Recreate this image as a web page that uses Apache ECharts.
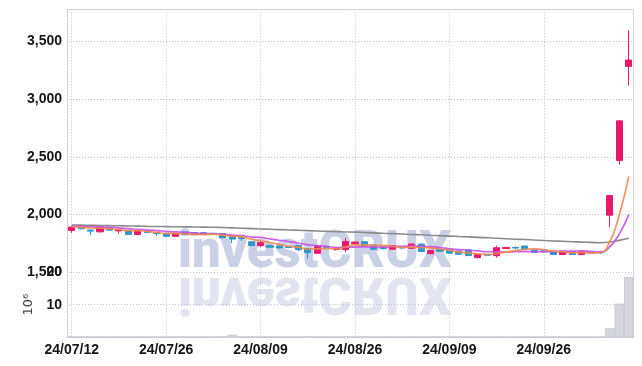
<!DOCTYPE html>
<html><head><meta charset="utf-8">
<script src="https://cdn.jsdelivr.net/npm/echarts@6/dist/echarts.min.js"></script>
<style>html,body{margin:0;padding:0;background:#fff}#c{width:642px;height:366px}</style>
</head><body><div id="c"></div>
<script>
const dates = ['24/07/12','24/07/15','24/07/16','24/07/17','24/07/18','24/07/19','24/07/22','24/07/23','24/07/24','24/07/25',
'24/07/26','24/07/29','24/07/30','24/07/31','24/08/01','24/08/02','24/08/05','24/08/06','24/08/07','24/08/08',
'24/08/09','24/08/12','24/08/13','24/08/14','24/08/16','24/08/19','24/08/20','24/08/21','24/08/22','24/08/23',
'24/08/26','24/08/27','24/08/28','24/08/29','24/08/30','24/09/02','24/09/03','24/09/04','24/09/05','24/09/06',
'24/09/09','24/09/10','24/09/11','24/09/12','24/09/13','24/09/19','24/09/20','24/09/23','24/09/24','24/09/25',
'24/09/26','24/09/27','24/09/30','24/10/02','24/10/04','24/10/07','24/10/08','24/10/10','24/10/11','24/10/14'];
const openP = [1862,1892,1866,1851,1889,1859,1861,1827,1858,1844,1838,1812,1850,1845,1843,1838,1836,1818,1802,1764,
1731,1734,1728,1722,1733,1705,1665,1724,1697,1696,1748,1765,1737,1718,1700,1716,1708,1745,1662,1700,
1701,1684,1695,1627,1656,1644,1706,1715,1728,1693,1686,1682,1654,1676,1654,1675,1676,1995,2470,3285];
const closeP = [1892,1877,1857,1892,1865,1866,1827,1861,1845,1836,1812,1838,1828,1826,1829,1831,1798,1788,1793,1731,
1757,1717,1711,1715,1696,1670,1728,1717,1710,1768,1762,1731,1700,1705,1731,1711,1745,1680,1690,1683,
1666,1657,1645,1656,1647,1713,1716,1710,1702,1672,1678,1654,1682,1654,1681,1667,1668,2165,2813,3340];
const lowP = [1842,1872,1822,1845,1862,1836,1824,1824,1840,1814,1808,1808,1825,1822,1826,1826,1792,1752,1772,1728,
1718,1714,1708,1708,1682,1618,1662,1713,1688,1674,1745,1728,1696,1698,1697,1700,1705,1676,1658,1678,
1662,1652,1640,1622,1640,1627,1702,1700,1698,1668,1670,1650,1650,1650,1651,1660,1660,1893,2433,3120];
const highP = [1896,1897,1870,1896,1892,1870,1864,1864,1862,1848,1842,1842,1853,1848,1846,1842,1840,1822,1806,1768,
1774,1737,1731,1727,1736,1708,1731,1727,1712,1798,1764,1768,1740,1722,1734,1720,1750,1748,1694,1704,
1705,1688,1699,1660,1660,1731,1720,1725,1731,1696,1692,1685,1685,1679,1684,1680,1682,2168,2815,3597];
const ma5 = [1895,1890,1884,1882,1877,1871,1861,1862,1853,1847,1836,1838,1832,1828,1827,1830,1822,1814,1808,1788,
1773,1757,1742,1726,1719,1702,1704,1705,1704,1719,1737,1738,1734,1733,1726,1716,1718,1714,1711,1702,
1693,1675,1668,1661,1654,1664,1675,1688,1698,1703,1696,1683,1678,1668,1670,1668,1670,1767,1999,2331];
const ma10 = [1900,1898,1895,1893,1890,1885,1878,1873,1867,1862,1854,1850,1847,1840,1837,1833,1830,1823,1818,1807,
1802,1790,1778,1767,1754,1738,1731,1724,1715,1719,1719,1721,1720,1719,1722,1726,1728,1724,1722,1714,
1704,1697,1691,1686,1678,1678,1675,1678,1680,1678,1680,1679,1683,1683,1686,1682,1677,1722,1833,2000];
const ma60 = [1910,1909,1907,1906,1905,1903,1902,1900,1898,1897,1896,1895,1894,1893,1892,1890,1888,1885,1882,1879,
1876,1873,1870,1867,1864,1861,1858,1855,1852,1850,1848,1845,1842,1838,1835,1832,1828,1825,1821,1818,
1814,1810,1807,1803,1799,1795,1791,1787,1784,1780,1776,1772,1769,1765,1762,1759,1756,1762,1777,1795];
const volume = [0.05,0.04,0.05,0.04,0.03,0.04,0.05,0.04,0.03,0.04,0.05,0.04,0.03,0.03,0.04,0.04,0.08,0.7,0.06,0.08,
0.05,0.04,0.04,0.03,0.05,0.08,0.06,0.04,0.03,0.06,0.04,0.04,0.05,0.03,0.04,0.03,0.04,0.05,0.04,0.03,
0.04,0.03,0.04,0.05,0.03,0.06,0.04,0.03,0.04,0.03,0.03,0.03,0.04,0.03,0.03,0.03,0.04,2.7,10.3,18.5];
const priceTicks = {min:1500, max:3780, interval:500};
const volTicks = {min:0, max:20, interval:10};

const chart = echarts.init(document.getElementById('c'), null, {renderer:'canvas'});
const lblFont = "'Liberation Sans',Arial,sans-serif";
const gridC = '#bcc1d8';
const edgeC = '#cfd2df';
const dotted = {color:gridC, type:[1,2], width:1};
const lbl = {fontFamily:lblFont, fontWeight:'bold', fontSize:14, color:'#151515'};
const candles = dates.map((d,i)=>[openP[i], closeP[i], lowP[i], highP[i]]);
const up = '#e8196c', down = '#2e96cd';

chart.setOption({
  animation:false,
  backgroundColor:'#ffffff',
  grid:[{left:67,right:8.5,top:9.3,height:263},{left:67,right:8.5,top:272.3,bottom:29}],
  xAxis:[
    {type:'category',gridIndex:0,data:dates,axisLine:{show:false},axisTick:{show:false},
     axisLabel:{show:false,interval:9},splitLine:{show:true,interval:9,alignWithLabel:true,lineStyle:dotted}},
    {type:'category',gridIndex:1,data:dates,axisLine:{show:true,lineStyle:{color:edgeC}},axisTick:{show:false},
     axisLabel:Object.assign({interval:9,margin:6},lbl),splitLine:{show:true,interval:9,alignWithLabel:true,lineStyle:dotted}},
    {type:'category',gridIndex:0,position:'top',data:dates,axisLine:{show:true,lineStyle:{color:edgeC}},axisTick:{show:false},
     axisLabel:{show:false},splitLine:{show:false}}
  ],
  yAxis:[
    {type:'value',gridIndex:0,min:priceTicks.min,max:priceTicks.max,interval:priceTicks.interval,
     axisLine:{show:true,lineStyle:{color:edgeC}},axisTick:{show:false},
     axisLabel:Object.assign({margin:5,showMaxLabel:false},lbl),splitLine:{show:true,lineStyle:dotted}},
    {type:'value',gridIndex:1,min:volTicks.min,max:volTicks.max,interval:volTicks.interval,
     name:'10\u2076',nameLocation:'middle',nameGap:18,nameRotate:90,
     nameTextStyle:{fontFamily:'DejaVu Sans',fontSize:13,color:'#444'},
     axisLine:{show:true,lineStyle:{color:edgeC}},axisTick:{show:false},
     axisLabel:Object.assign({margin:5,showMinLabel:false},lbl),splitLine:{show:true,lineStyle:dotted}},
    {type:'value',gridIndex:0,position:'right',min:priceTicks.min,max:priceTicks.max,
     axisLine:{show:true,lineStyle:{color:edgeC}},axisTick:{show:false},axisLabel:{show:false},splitLine:{show:false}},
    {type:'value',gridIndex:1,position:'right',min:volTicks.min,max:volTicks.max,
     axisLine:{show:true,lineStyle:{color:edgeC}},axisTick:{show:false},axisLabel:{show:false},splitLine:{show:false}}
  ],
  graphic:[
    {type:'text',x:178,y:254,z:-1,silent:true,
     style:{text:'investCRUX',font:'900 51px Roboto',fill:'#cbd1e5',verticalAlign:'middle',align:'left'}},
    {type:'text',x:178,y:291,scaleY:-1,z:-1,silent:true,
     style:{text:'investCRUX',font:'900 51px Roboto',fill:'#e2e5f0',verticalAlign:'middle',align:'left'}}
  ],
  series:[
    {type:'candlestick',xAxisIndex:0,yAxisIndex:0,data:candles,barWidth:'70%',z:2,
     itemStyle:{color:up,color0:down,borderColor:up,borderColor0:down,borderWidth:1}},
    {type:'line',xAxisIndex:0,yAxisIndex:0,data:ma60,symbol:'none',smooth:true,z:3,
     lineStyle:{color:'#8a8a8a',width:1.6}},
    {type:'line',xAxisIndex:0,yAxisIndex:0,data:ma10,symbol:'none',smooth:true,z:3,
     lineStyle:{color:'#c94fe8',width:1.7,opacity:0.9}},
    {type:'line',xAxisIndex:0,yAxisIndex:0,data:ma5,symbol:'none',smooth:true,z:3,
     lineStyle:{color:'#ef8a4f',width:1.7,opacity:0.9}},
    {type:'bar',xAxisIndex:1,yAxisIndex:1,data:volume,barCategoryGap:'0%',
     itemStyle:{color:'#d6d6de',borderColor:'#c4c4cd',borderWidth:0.8}}
  ]
});
</script></body></html>
